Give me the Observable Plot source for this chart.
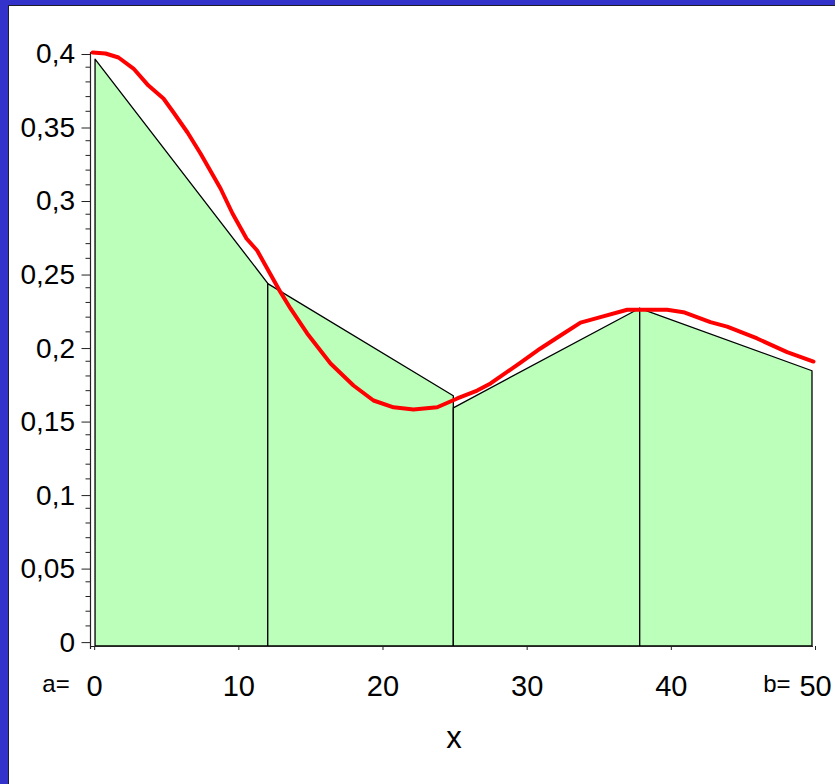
<!DOCTYPE html>
<html>
<head>
<meta charset="utf-8">
<script src="https://cdn.jsdelivr.net/npm/d3@7"></script>
<script src="https://cdn.jsdelivr.net/npm/@observablehq/plot@0.6"></script>
<style>
  html, body { margin: 0; padding: 0; }
  body { width: 835px; height: 784px; overflow: hidden; background: #3333cc; position: relative; font-family: "Liberation Sans", Arial, sans-serif; }
  #panel { position: absolute; left: 8px; top: 5px; right: 0; bottom: 0; background: #ffffff; border-left: 1px solid #1e1e2a; border-top: 1px solid #1e1e2a; }
  #chart { position: absolute; left: 0; top: 0; }
</style>
</head>
<body>
<div id="panel"></div>
<div id="chart"></div>
<script>
// Density curve f(x) sampled on [0, 50]
const curveX = [0, 0.89, 1.79, 2.83, 3.87, 4.91, 5.61, 6.58, 7.48, 8.87, 9.70, 10.67, 11.41,
  13.03, 13.72, 14.88, 16.50, 18.09, 19.48, 20.87, 22.25, 23.90, 25.29, 26.67, 27.60,
  29.68, 31.06, 32.45, 33.84, 35.22, 37.08, 39.85, 40.98, 42.85, 44.01, 46.09, 48.17, 50.0];
const curveY = [0.4000, 0.3993, 0.3966, 0.3891, 0.3775, 0.3687, 0.3592, 0.3456, 0.3313, 0.3075, 0.2905, 0.2735, 0.2653,
  0.2370, 0.2259, 0.2089, 0.1885, 0.1735, 0.1633, 0.1587, 0.1572, 0.1587, 0.1647, 0.1701, 0.1749,
  0.1891, 0.1987, 0.2075, 0.2163, 0.2200, 0.2250, 0.2250, 0.2234, 0.2166, 0.2136, 0.2055, 0.1962, 0.1898];

// Trapezoid panels: partition nodes and the heights at each panel's left/right side
const nodeX = [0.2, 12.18, 25.05, 37.98, 49.93];
const trapLeftY = [0.3952, 0.2425, 0.158, 0.2257];
const trapRightY = [0.2427, 0.1662, 0.2257, 0.1832];

// Axis ticks and labels
const xTicks = [0, 10, 20, 30, 40, 50];
const xTickLabels = ["0", "10", "20", "30", "40", "50"];
const yTicks = [0, 0.05, 0.1, 0.15, 0.2, 0.25, 0.3, 0.35, 0.4];
const yTickLabels = ["0", "0,05", "0,1", "0,15", "0,2", "0,25", "0,3", "0,35", "0,4"];
const endLabels = [{x: 0, text: "a="}, {x: 50, text: "b="}];
const xTitle = "x";

// Build the trapezoid table (two corner points per panel)
const trapezoids = trapLeftY.flatMap((yl, i) => [
  {panel: i, x: nodeX[i], y: yl},
  {panel: i, x: nodeX[i + 1], y: trapRightY[i]}
]);
const curve = curveX.map((x, i) => ({x, y: curveY[i]}));

const baseY = -0.004;   // level of the drawn x axis line
const axisLeft = -0.15; // position of the drawn y axis line
const minorTicks = d3.range(0, 41).map(k => k / 100).filter(v => Math.round(v * 100) % 5 !== 0);

const chart = Plot.plot({
  width: 835,
  height: 784,
  marginLeft: 90,
  marginRight: 22,
  marginTop: 52,
  marginBottom: 138,
  style: {background: "transparent", fontFamily: "'Liberation Sans', Arial, sans-serif", color: "#000"},
  x: {domain: [axisLeft, 50], axis: null},
  y: {domain: [baseY, 0.4], axis: null},
  marks: [
    Plot.areaY(trapezoids, {x: "x", y2: "y", y1: baseY, z: "panel", fill: "#bbffbb", stroke: "#000", strokeWidth: 1.3, curve: "linear"}),
    Plot.ruleY([baseY], {x1: axisLeft, x2: 50, stroke: "#222", strokeWidth: 1.2}),
    Plot.ruleX([axisLeft], {y1: -0.006, y2: 0.4, stroke: "#222", strokeWidth: 1.2}),
    Plot.axisY({ticks: minorTicks, tickSize: 4.5, tickFormat: () => "", label: null, stroke: "#222"}),
    Plot.axisY({ticks: yTicks, tickSize: 8.5, tickPadding: 7, tickFormat: (d) => yTickLabels[yTicks.indexOf(d)], label: null, fontSize: 28, dy: 2, stroke: "#222"}),
    Plot.axisX({ticks: xTicks, tickSize: 4, tickPadding: 25, tickFormat: (d) => xTickLabels[xTicks.indexOf(d)], label: null, fontSize: 29, dx: 2, stroke: "#222"}),
    Plot.text(endLabels, {x: "x", y: baseY, text: "text", textAnchor: "end", dx: -23, dy: 38, fontSize: 24}),
    Plot.text([xTitle], {x: 25, y: baseY, text: (d) => d, dx: 1, dy: 92, fontSize: 31}),
    Plot.line(curve, {x: "x", y: "y", stroke: "#ff0000", strokeWidth: 4, strokeLinejoin: "round", strokeLinecap: "round"})
  ]
});
document.getElementById("chart").appendChild(chart);
</script>
</body>
</html>
